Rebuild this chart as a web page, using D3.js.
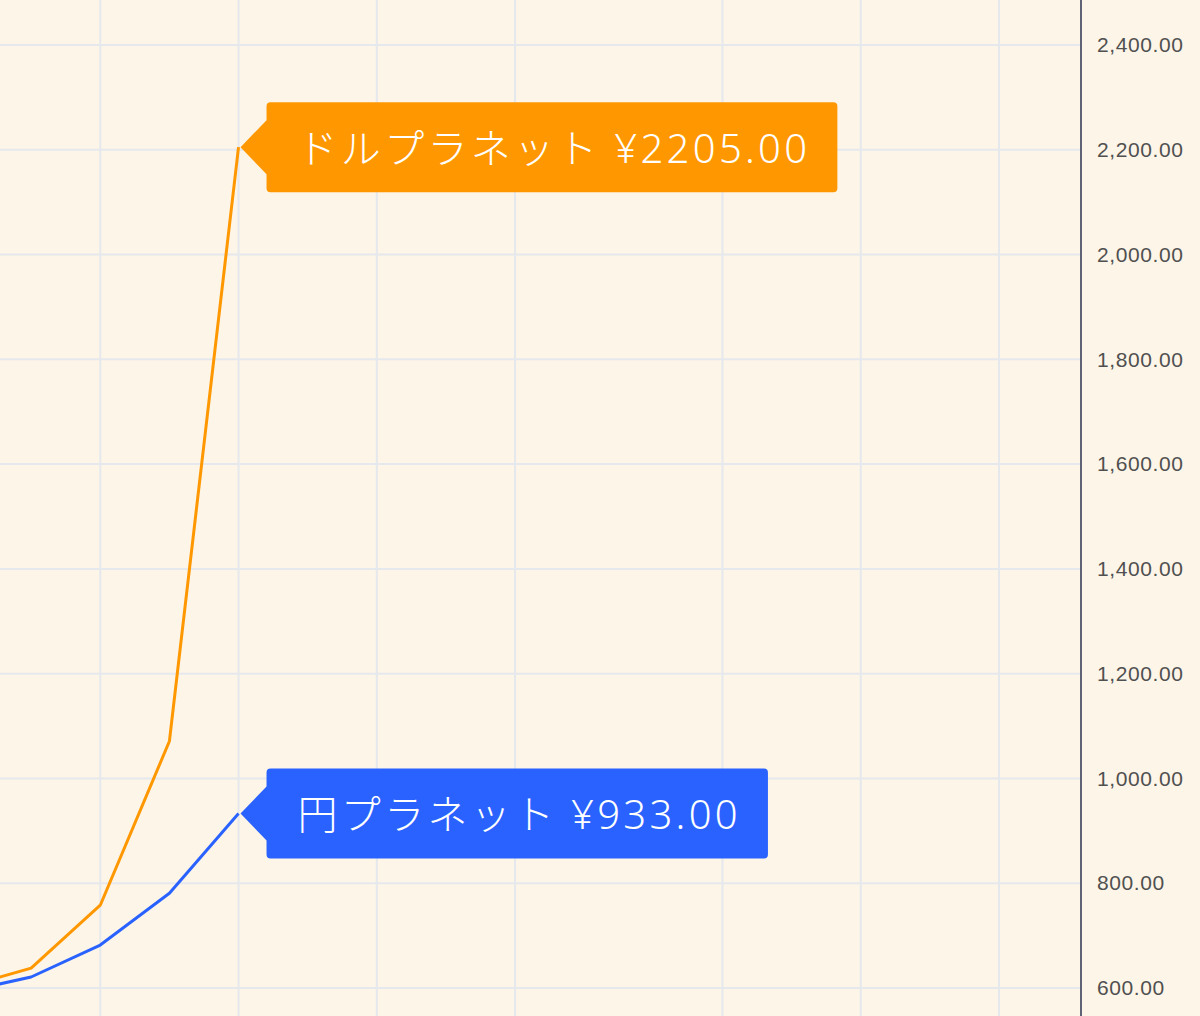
<!DOCTYPE html>
<html><head><meta charset="utf-8">
<script src="https://cdn.jsdelivr.net/npm/d3@7"></script>
<style>html,body{margin:0;padding:0;background:#FDF5E8;overflow:hidden}</style>
</head><body><svg id="c" width="1200" height="1016"></svg>
<script>
// ---- data ----
const barIndex = [-4, -3, -2, -1, 0];
const dollarValues = [600, 638, 758, 1071, 2205];
const yenValues = [592, 621, 682, 781, 933];
const seriesNames = ["ドルプラネット", "円プラネット"];
const seriesColors = ["#FF9800", "#2962FF"];
const yTicks = [600, 800, 1000, 1200, 1400, 1600, 1800, 2000, 2200, 2400];
const timeGridIndex = [-2, 0, 2, 4, 7, 9, 11];

// ---- layout ----
const W = 1200, H = 1016, axisX = 1081;
const svg = d3.select("#c");
svg.append("rect").attr("width", W).attr("height", H).attr("fill", "#FDF5E8");

const x = d3.scaleLinear().domain([-4, 11]).range([-38, 999]);
const y = d3.scaleLinear().domain([600, 2400]).range([988, 45]);

// grid
const grid = svg.append("g");
grid.selectAll("line.h").data(yTicks).join("line")
  .attr("x1", 0).attr("x2", axisX).attr("y1", d => y(d)).attr("y2", d => y(d))
  .attr("stroke", "#E5E8EC").attr("stroke-width", 2);
grid.selectAll("line.v").data(timeGridIndex).join("line")
  .attr("x1", d => x(d)).attr("x2", d => x(d)).attr("y1", 0).attr("y2", H)
  .attr("stroke", "#E5E8EC").attr("stroke-width", 2);

// axis
const axis = svg.append("g").attr("transform", `translate(${axisX},0)`)
  .call(d3.axisRight(y).tickValues(yTicks).tickSize(0).tickPadding(16).tickFormat(d3.format(",.2f")));
axis.select(".domain").remove();
axis.append("line").attr("x1", 0).attr("x2", 0).attr("y1", 0).attr("y2", H)
  .attr("stroke", "#5F6373").attr("stroke-width", 2);
axis.selectAll("text").attr("fill", "#505050").attr("font-size", 21)
  .attr("font-family", "'Liberation Sans', Arial, sans-serif").attr("letter-spacing", "0.6px");

// lines
const series = [dollarValues, yenValues];
const line = d3.line().x((d, i) => x(barIndex[i])).y(d => y(d));
series.forEach((vals, k) => {
  svg.append("path").datum(vals).attr("d", line)
    .attr("fill", "none").attr("stroke", seriesColors[k]).attr("stroke-width", 3)
    .attr("stroke-linejoin", "round");
});

// labels
const fmt = d3.format(".2f");
series.forEach((vals, k) => {
  const last = vals.length - 1;
  const tipX = x(barIndex[last]) + 2, tipY = y(vals[last]);
  const g = svg.append("g");
  const boxL = tipX + 26, halfH = 45, arrowH = 27, r = 4;
  const path = g.append("path").attr("fill", seriesColors[k]);
  const t = g.append("text").attr("x", boxL + 31).attr("y", tipY)
    .attr("dominant-baseline", "central").attr("fill", "#fff")
    .attr("font-size", 40).attr("font-weight", 300).attr("letter-spacing", "3.3px")
    .attr("font-family", "'Noto Sans', 'Noto Sans CJK JP', sans-serif")
    .text(`${seriesNames[k]} ¥${fmt(vals[last])}`);
  const tw = t.node().getComputedTextLength();
  const boxR = boxL + 31 + tw + 27;
  const top = tipY - halfH, bot = tipY + halfH;
  const p = d3.path();
  p.moveTo(tipX, tipY);
  p.lineTo(boxL, tipY - arrowH);
  p.lineTo(boxL, top + r);
  p.arcTo(boxL, top, boxL + r, top, r);
  p.lineTo(boxR - r, top);
  p.arcTo(boxR, top, boxR, top + r, r);
  p.lineTo(boxR, bot - r);
  p.arcTo(boxR, bot, boxR - r, bot, r);
  p.lineTo(boxL + r, bot);
  p.arcTo(boxL, bot, boxL, bot - r, r);
  p.lineTo(boxL, tipY + arrowH);
  p.closePath();
  path.attr("d", p.toString());
});
</script></body></html>
